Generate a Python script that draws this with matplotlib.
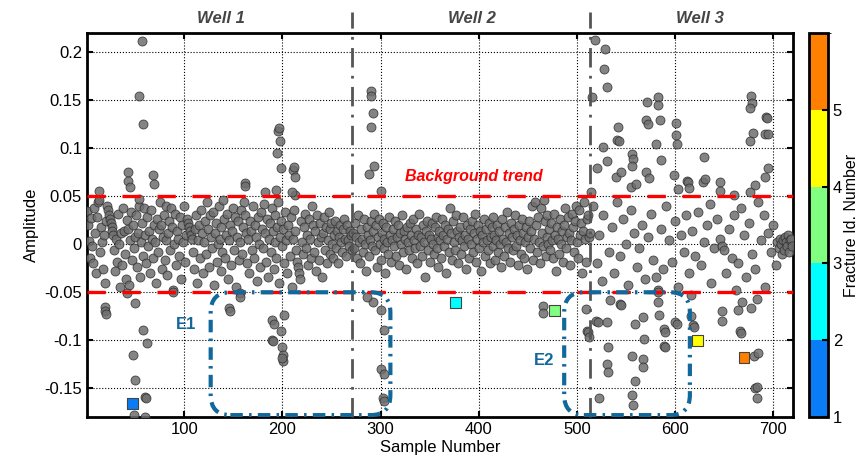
import numpy as np
import matplotlib
matplotlib.use("Agg")
import matplotlib.pyplot as plt
from matplotlib.colors import ListedColormap, BoundaryNorm
from matplotlib.patches import FancyBboxPatch
from matplotlib.ticker import FuncFormatter

plt.rcParams['font.family'] = ['Liberation Sans', 'DejaVu Sans']
plt.rcParams['axes.unicode_minus'] = False

# --- data (amplitudes in thousandths) ---
# well 1, samples 1..271, one value per sample
well1_band = [
    35, 20, 3, -14, 27, -2, -20, 38, 12, -30, 28, 44, 46, -8, 18, 2, -26, 10, -40, 24,
    40, 36, 30, 26, 22, 18, 14, 10, -6, -28, 5, -18, 32, 0, -44, 12, -22, 38, 14, -10,
    -36, 25, 16, -42, 4, 34, -16, 20, -4, 8, 30, -24, 12, 40, -34, 2, 22, -12, 38, 10,
    -20, 28, -2, 14, -30, 36, 6, -14, 20, 2, -40, 26, -8, 16, 44, 20, -26, 8, 30, -16,
    40, 4, -32, 12, 24, -6, 38, 18, -48, 0, 32, -22, 14, 6, -12, 28, -36, 20, 2, 40,
    -18, 10, 26, 22, 18, 14, 10, 6, -8, -26, 16, 30, -40, 4, 20, -14, 36, 12, -30, 2,
    24, -10, 44, 16, -24, 30, 8, -4, 34, -42, 12, 22, -18, 0, 40, 6, -28, 18, -8, 46,
    26, -14, 10, 32, -36, 4, 20, -22, 14, 38, -6, 28, -44, 8, 24, -16, 2, 36, -10, 18,
    44, 30, 12, -20, 6, -30, 24, 14, -6, 40, -14, 20, 8, -38, 28, 0, -24, 34, 16, -4,
    42, 12, -18, 26, -34, 6, 22, -8, 38, 14, -26, 2, 30, -14, 18, 44, -40, 8, 24, -2,
    16, -20, 34, 4, -30, 20, 10, -12, 28, -44, 6, 36, 14, -6, -18, -24, -30, -36, 24, 2,
    -10, 18, 32, -4, 10, -22, 26, 6, -14, 40, 20, -8, 14, -28, 30, 2, -16, 22, 8, -34,
    12, 28, -6, 18, -20, 4, 34, 16, -10, 22, 0, -14, 10, 24, -4, 14, -20, 8, 20, 2,
    -8, 16, 26, 6, -12, 20, 4, -2, 14, 10, -6,
]

# well 2, samples 272..513
well2_band = [
    12, -4, 22, 8, -14, 30, 2, -20, 16, 6, -8, 26, 0, -28, 18, 10, -12, 4, 24, -2,
    14, 32, -6, 20, -24, 8, 26, 0, -16, 12, 22, -4, 6, -30, 18, 2, -10, 28, 10, -18,
    4, 16, -2, 24, -12, 8, 20, -22, 12, 0, 30, -8, 14, 6, -26, 18, 2, -6, 22, 10,
    -14, 26, 4, -4, 16, -20, 10, 32, -2, 8, -12, 20, 2, -34, 14, 24, -6, 10, -18, 6,
    22, 0, -10, 18, 28, -4, 8, -24, 14, 4, -14, 26, 10, -2, 20, -30, 6, 16, -8, 38,
    12, -16, 24, 2, -6, 30, 14, -20, 8, 18, -10, 4, 28, -2, 10, -26, 20, 6, -14, 16,
    0, 24, -8, 12, 32, -18, 6, 20, -4, 14, -28, 10, 2, 26, -12, 16, 4, -6, 22, -20,
    8, 18, -2, 28, 10, -16, 4, 20, -8, 14, 0, -24, 26, 6, -12, 18, 2, 34, -4, 12,
    -18, 22, 8, -6, 16, 30, -2, 10, -22, 20, 4, -10, 26, 12, -14, 2, 18, -26, 8, 24,
    -4, 14, 40, -16, 6, 44, 20, -8, 28, 2, -20, 38, 12, -2, 46, 24, -12, 8, 30, 0,
    16, -6, 22, 4, -14, 32, 10, -28, 18, 6, -10, 26, 0, 14, -18, 20, 38, -4, 8, 28,
    12, -22, 4, 32, 18, -8, 24, 40, 2, -14, 36, 10, 22, -30, 14, 44, 6, -18, 26, 30, 8, 12,
]

# well 3 is sparser: explicit sample numbers
well3_samples = [
    516, 520, 522, 525, 527, 533, 536, 538, 541, 544, 547, 550, 552, 555, 558, 561, 563, 566,
    569, 572, 575, 577, 580, 583, 586, 588, 591, 594, 597, 600, 603, 606, 609, 611, 614, 617,
    620, 623, 626, 629, 632, 635, 637, 640, 643, 646, 648, 650, 652, 655, 658, 660, 662, 664,
    667, 670, 672, 675, 678, 681, 684, 687, 690, 692, 695, 698, 700, 703, 704, 706, 707, 708,
    709, 710, 711, 712, 713, 714, 715, 716, 717, 718, 719,
]
well3_band = [
    40, -20, 10, -38, 30, -8, 18, -30, 44, -12, 26, 0, -42, 36, 12, -24, -4, 20,
    -36, 8, 32, -16, -34, -48, 16, -26, 40, 4, -18, 24, -44, 10, -8, 30, -30, 14,
    -12, 34, -22, 2, 20, 42, -40, -4, 26, 6, -2, -6, -30, 16, -14, 30, -48, -20,
    38, 10, -34, 22, -10, -26, 44, 4, 30, -44, 12, -8, 20, -22, 2, -4, 6, 0,
    -10, 4, -6, 8, 2, -2, 10, -8, 4, 6, -2,
]

# points outside the background band
spike_samples = [
    19, 19, 20, 42, 43, 43, 45, 48, 50, 50, 54, 54, 57, 58, 58, 60, 61, 49, 60, 62, 68, 69, 13,
    89, 146, 147, 157, 157, 162, 162, 182, 189, 191, 189, 190, 194, 195, 196, 197, 198, 199,
    199, 200, 201, 201, 200, 202, 211, 212, 213, 213, 210, 288, 290, 290, 292, 290, 293, 300,
    292, 300, 303, 300, 303, 302, 303, 286, 465, 465,
    514, 515, 518, 529, 528, 531, 527, 531, 520, 542, 541, 543, 556, 557, 556, 555, 560, 540,
    545, 571, 570, 572, 583, 583, 585, 581, 586, 570, 573, 601, 601, 602, 599, 603, 612, 613,
    614, 629, 628, 630, 646, 646, 677, 678, 676, 679, 676, 693, 694, 692, 695, 695, 691, 681,
    676, 660,
    509, 510, 511, 512, 519, 521, 531, 532, 531, 532, 522, 534, 544, 545, 559, 567, 568, 556,
    567, 567, 559, 556, 557, 583, 583, 584, 589, 590, 589, 590, 600, 602, 616, 618, 619, 616,
    648, 648, 668, 664, 666, 667, 677, 683, 680, 684, 681, 683, 683,
]
spike_amps = [
    -65, -70, -73, -51, 75, 66, 60, -115, -141, -61, 154, 47, 212, 125, -89, -159, -160, -178,
    -180, -103, 72, 63, 56,
    -50, -66, -69, -51, -55, 64, 61, 55, -79, -83, -100, -101, 57, 95, 118, 121, 108, 79,
    -90, -107, -115, -122, -118, -74, 77, 81, 70, 51, 55, 73, 160, 154, 137, 122, 82, 56,
    -60, -68, -89, -130, -135, -160, -163, -55, -64, -72,
    54, 153, 213, 203, 183, 164, 101, 87, 80, 122, 109, 108, 94, 89, 82, 60, 63, 70,
    75, 148, 130, 125, 153, 145, 130, 104, 88, 75, 69, 126, 114, 105, 72, 58, 66, 65,
    59, 91, 65, 68, 65, 56, 155, 147, 142, 116, 108, 133, 132, 115, 115, 79, 70, 62,
    55, 51,
    -67, -90, -91, -97, -80, -81, -81, -107, -125, -133, -160, -58, -62, -63, -83, -76, -99, -116,
    -120, -128, -142, -157, -167, -50, -60, -74, -88, -91, -106, -107, -81, -83, -75, -84, -86, -53,
    -70, -80, -60, -68, -90, -92, -66, -57, -116, -113, -150, -149, -160,
]

# identified fractures
frac_samples = [47, 376, 477, 623, 670]
frac_amps = [-0.166, -0.061, -0.069, -0.100, -0.118]
frac_ids = [1, 2, 3, 4, 5]
frac_colors = ['#0a7cf5', '#00ffff', '#80ff80', '#ffff00', '#ff8000']

well_bounds = [271, 513]
well_names = ['Well 1', 'Well 2', 'Well 3']
well_label_x = [137, 393, 625]
trend_level = 0.05

# assemble scatter arrays
xs = np.concatenate([np.arange(1, len(well1_band) + 1),
                     np.arange(272, 272 + len(well2_band)),
                     well3_samples, spike_samples])
ys = np.concatenate([well1_band, well2_band, well3_band, spike_amps]) / 1000.0

fig = plt.figure(figsize=(8.61, 4.67), dpi=100)
ax = fig.add_axes([0.101, 0.107, 0.820, 0.822])
cax = fig.add_axes([0.9396, 0.107, 0.022, 0.822])

ax.grid(True, color='black', linestyle=':', linewidth=0.8)
ax.set_axisbelow(True)

ax.scatter(xs, ys, s=42, facecolor='#6e6e6e', edgecolor='#2e2e2e',
           linewidth=0.6, alpha=0.85, zorder=3)

# background trend
for lv in (trend_level, -trend_level):
    ax.axhline(lv, color='red', linewidth=2.4, dashes=(5.5, 5), zorder=4)
ax.text(395, 0.071, 'Background trend', color='red', fontsize=11.5,
        fontweight='bold', fontstyle='italic', ha='center', va='center', zorder=5)

# well separators, going up past the frame
for b in well_bounds:
    ax.plot([b, b], [-0.18, 0.242], color='#555555', linewidth=2,
            linestyle=(0, (7, 3, 1, 3)), clip_on=False, zorder=5)
for name, lx in zip(well_names, well_label_x):
    ax.text(lx, 1.039, name, transform=ax.get_xaxis_transform(), ha='center',
            va='center', fontsize=12, fontweight='bold', fontstyle='italic',
            color='#454545')

# E1 / E2 rounded boxes
box_col = '#12689a'
for x0, x1 in [(127, 310), (487, 615)]:
    box = FancyBboxPatch((x0, -0.178), x1 - x0, 0.128,
                         boxstyle='round,pad=0,rounding_size=20',
                         mutation_aspect=0.00105, fill=False,
                         edgecolor=box_col, linewidth=3,
                         linestyle=(0, (3, 1.5, 0.6, 1.5)), zorder=6)
    ax.add_patch(box)
ax.text(102, -0.084, 'E1', color=box_col, fontsize=12, fontweight='bold',
        ha='center', va='center')
ax.text(466, -0.121, 'E2', color=box_col, fontsize=12, fontweight='bold',
        ha='center', va='center')

# fracture squares
cmap = ListedColormap(frac_colors)
norm = BoundaryNorm([1, 2, 3, 4, 5, 6], cmap.N)
ax.scatter(frac_samples, frac_amps, c=frac_ids, cmap=cmap, norm=norm, marker='s',
           s=60, edgecolor='#444444', linewidth=0.8, zorder=7)

ax.set_xlim(1, 720)
ax.set_ylim(-0.18, 0.22)
ax.set_xticks([100, 200, 300, 400, 500, 600, 700])
ax.set_yticks([-0.15, -0.1, -0.05, 0, 0.05, 0.1, 0.15, 0.2])
ax.yaxis.set_major_formatter(FuncFormatter(lambda v, p: '%g' % round(v, 3)))
ax.tick_params(direction='in', top=True, right=True, labelsize=12, width=1.5, length=4)
for sp in ax.spines.values():
    sp.set_linewidth(2)
ax.set_xlabel('Sample Number', fontsize=12, labelpad=2)
ax.set_ylabel('Amplitude', fontsize=12, labelpad=4)

sm = matplotlib.cm.ScalarMappable(cmap=cmap, norm=norm)
cb = fig.colorbar(sm, cax=cax, ticks=[1, 2, 3, 4, 5])
cb.outline.set_linewidth(2)
cb.ax.tick_params(labelsize=12, direction='in', width=1.5, length=4)
cb.set_label('Fracture Id. Number', fontsize=11.5, labelpad=1)

fig.savefig('out.png', dpi=100)
